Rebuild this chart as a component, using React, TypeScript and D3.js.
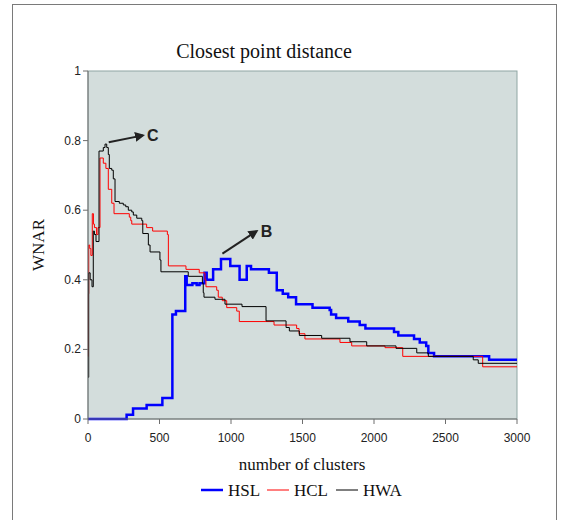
import React from 'react';
import * as d3 from 'd3';

// step series: [number of clusters, WNAR]
const HSL: [number, number][] = [
  [0, 0], [270, 0.012], [315, 0.03], [410, 0.04], [520, 0.06], [590, 0.30], [615, 0.31],
  [680, 0.41], [690, 0.385], [730, 0.39], [760, 0.385], [780, 0.39], [815, 0.42], [830, 0.40],
  [875, 0.43], [930, 0.46], [995, 0.44], [1060, 0.40], [1110, 0.44], [1140, 0.43], [1265, 0.42],
  [1320, 0.37], [1362, 0.36], [1400, 0.35], [1455, 0.33], [1570, 0.32], [1690, 0.313], [1700, 0.30],
  [1735, 0.29], [1820, 0.28], [1900, 0.27], [1940, 0.26], [2140, 0.25], [2170, 0.24], [2280, 0.23],
  [2320, 0.22], [2365, 0.21], [2380, 0.19], [2420, 0.18], [2805, 0.17], [3000, 0.17],
];
const HCL: [number, number][] = [
  [0, 0.18], [3, 0.36], [5, 0.50], [12, 0.49], [20, 0.47], [30, 0.59], [38, 0.56], [45, 0.55],
  [60, 0.53], [70, 0.55], [84, 0.75], [107, 0.735], [125, 0.72], [142, 0.66], [166, 0.62],
  [182, 0.59], [289, 0.58], [299, 0.57], [306, 0.56], [410, 0.55], [452, 0.54], [555, 0.53],
  [562, 0.44], [685, 0.43], [778, 0.42], [818, 0.40], [825, 0.38], [900, 0.37], [911, 0.35],
  [939, 0.34], [970, 0.32], [1040, 0.31], [1058, 0.28], [1301, 0.27], [1459, 0.26], [1476, 0.245],
  [1517, 0.23], [1762, 0.22], [1844, 0.21], [2077, 0.205], [2201, 0.18], [2760, 0.15], [3000, 0.15],
];
const HWA: [number, number][] = [
  [0, 0.12], [5, 0.42], [15, 0.40], [28, 0.38], [37, 0.54], [45, 0.53], [56, 0.51], [77, 0.77],
  [107, 0.78], [119, 0.79], [131, 0.78], [142, 0.76], [149, 0.72], [166, 0.715], [177, 0.69],
  [189, 0.625], [219, 0.62], [247, 0.615], [264, 0.61], [282, 0.60], [306, 0.595], [317, 0.586],
  [341, 0.577], [376, 0.57], [383, 0.533], [422, 0.50], [434, 0.48], [503, 0.457], [510, 0.423],
  [701, 0.41], [800, 0.39], [806, 0.363], [811, 0.35], [888, 0.344], [958, 0.33], [1077, 0.323],
  [1245, 0.282], [1385, 0.263], [1408, 0.253], [1478, 0.24], [1634, 0.232], [1832, 0.222],
  [1949, 0.21], [2154, 0.203], [2299, 0.19], [2380, 0.18], [2694, 0.17], [2729, 0.16], [3000, 0.16],
];
const xTicks = [0, 500, 1000, 1500, 2000, 2500, 3000];
const yTicks = [0, 0.2, 0.4, 0.6, 0.8, 1];
const seriesNames = ['HSL', 'HCL', 'HWA'];
const seriesColors = ['#0000ff', '#ff0000', '#000000'];
// annotation arrows: [x0, y0, x1, y1] in data units, label
const notes: { from: [number, number]; to: [number, number]; label: string }[] = [
  { from: [145, 0.795], to: [385, 0.815], label: 'C' },
  { from: [940, 0.475], to: [1180, 0.54], label: 'B' },
];

const serif = '"Liberation Serif", "Times New Roman", serif';
const sans = '"Liberation Sans", Arial, sans-serif';

export default function App() {
  const W = 561, H = 520;
  const left = 88, right = 517, top = 71, bottom = 419;
  const x = d3.scaleLinear().domain([0, 3000]).range([left, right]);
  const y = d3.scaleLinear().domain([0, 1]).range([bottom, top]);
  const line = d3.line<[number, number]>()
    .x(d => x(d[0]))
    .y(d => y(d[1]))
    .curve(d3.curveStepAfter);
  const data = [HSL, HCL, HWA];
  const widths = [2.5, 1, 1];
  const fmt = d3.format('.1f');

  const legendX = [201, 267, 336];

  return (
    <svg width={W} height={H} style={{ position: 'absolute', left: 0, top: 0 }}>
      <defs>
        <marker id="arr" viewBox="0 0 10 10" refX="8" refY="5" markerWidth="5" markerHeight="5" orient="auto">
          <path d="M0,0 L10,5 L0,10 z" fill="#222" />
        </marker>
      </defs>
      <rect x={0} y={0} width={W} height={H} fill="#fff" />
      <rect x={12.5} y={4.5} width={544} height={530} fill="#fff" stroke="#7a7a7a" strokeWidth={1} />
      <text x={264} y={58} textAnchor="middle" fontFamily={serif} fontSize={20} fill="#111">Closest point distance</text>

      <rect x={left} y={top} width={right - left} height={bottom - top} fill="#d3dddc" stroke="#8fa6a4" strokeWidth={1} />

      {data.map((d, i) => (
        <path key={seriesNames[i]} d={line(d) || ''} fill="none" stroke={seriesColors[i]} strokeWidth={widths[i]} />
      ))}

      {/* axes */}
      <line x1={left} x2={left} y1={top} y2={bottom} stroke="#6e6e6e" />
      <line x1={left} x2={right} y1={bottom} y2={bottom} stroke="#6e6e6e" />
      {yTicks.map(t => (
        <g key={'y' + t}>
          <line x1={left - 5} x2={left} y1={y(t)} y2={y(t)} stroke="#6e6e6e" />
          <text x={left - 7} y={y(t) + 4} textAnchor="end" fontFamily={sans} fontSize={12} fill="#222">
            {t === 0 || t === 1 ? String(t) : fmt(t)}
          </text>
        </g>
      ))}
      {xTicks.map(t => (
        <g key={'x' + t}>
          <line x1={x(t)} x2={x(t)} y1={bottom} y2={bottom + 5} stroke="#6e6e6e" />
          <text x={x(t)} y={442} textAnchor="middle" fontFamily={sans} fontSize={12} fill="#222">{t}</text>
        </g>
      ))}
      <text x={302} y={470} textAnchor="middle" fontFamily={serif} fontSize={17} fill="#111">number of clusters</text>
      <text transform={`translate(44,245) rotate(-90)`} textAnchor="middle" fontFamily={serif} fontSize={17} fill="#111">WNAR</text>

      {notes.map(n => (
        <g key={n.label}>
          <line x1={x(n.from[0])} y1={y(n.from[1])} x2={x(n.to[0])} y2={y(n.to[1])}
            stroke="#222" strokeWidth={2} markerEnd="url(#arr)" />
          <text x={x(n.to[0]) + 4} y={y(n.to[1]) + 6} fontFamily={sans} fontWeight="bold" fontSize={16} fill="#222">{n.label}</text>
        </g>
      ))}

      {/* legend */}
      {seriesNames.map((s, i) => (
        <g key={'lg' + s}>
          <line x1={legendX[i]} x2={legendX[i] + 22} y1={490} y2={490} stroke={seriesColors[i]} strokeWidth={i === 0 ? 2.5 : 1} />
          <text x={legendX[i] + 27} y={496} fontFamily={serif} fontSize={17} fill="#111">{s}</text>
        </g>
      ))}
    </svg>
  );
}
